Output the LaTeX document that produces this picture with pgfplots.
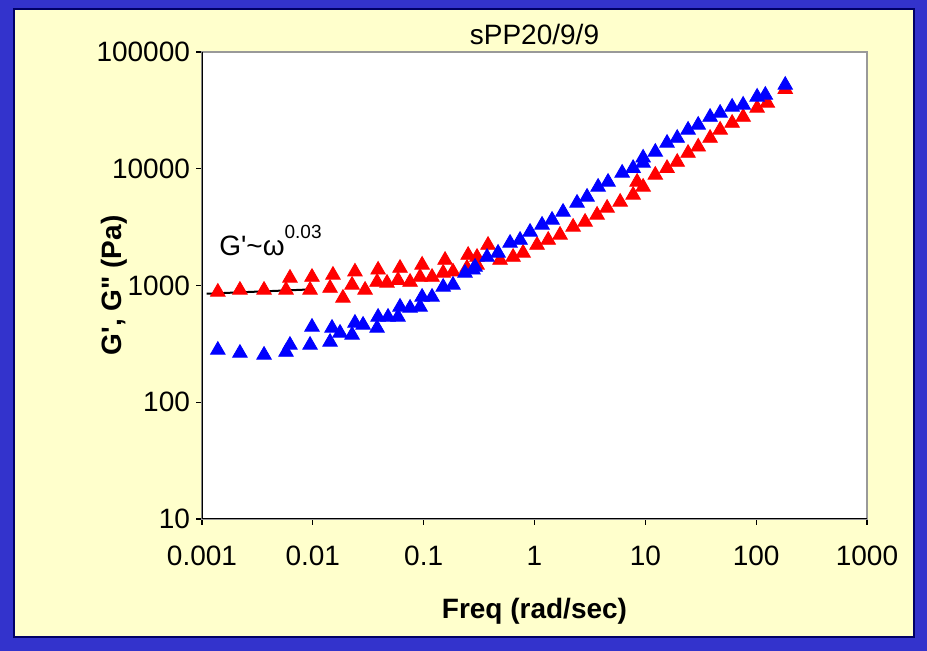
\documentclass[border=0pt]{standalone}
\usepackage{fontspec}
\setmainfont{Liberation Sans}
\usepackage{pgfplots}
\pgfplotsset{compat=1.18}
\definecolor{frameblue}{HTML}{3333CC}
\definecolor{paleyellow}{HTML}{FFFFCC}
\newcommand{\lblfont}{\fontsize{14}{16.5}\selectfont}
\begin{document}
\begin{tikzpicture}
\fill[frameblue] (0pt,0pt) rectangle (463.5pt,325.5pt);
\filldraw[fill=paleyellow, draw=black!60!blue, line width=0.6pt] (7pt,7pt) rectangle (457pt,321pt);
\begin{axis}[
  at={(101pt,66pt)}, anchor=south west,
  scale only axis, width=332.5pt, height=233.5pt,
  xmode=log, ymode=log,
  xmin=0.001, xmax=1000, ymin=10, ymax=100000,
  xtick={0.001,0.01,0.1,1,10,100,1000},
  xticklabels={0.001,0.01,0.1,1,10,100,1000},
  ytick={10,100,1000,10000,100000},
  yticklabels={10,100,1000,10000,100000},
  xminorticks=false, yminorticks=false,
  tick align=outside, tick pos=left,
  major tick length=3pt,
  tick style={black, line width=0.6pt},
  ticklabel style={font=\lblfont},
  xticklabel style={yshift=-7pt},
  yticklabel style={xshift=0.5pt},
  axis background/.style={fill=white},
  axis line style={draw=gray!80, line width=0.8pt},
  title={sPP20/9/9},
  title style={font=\lblfont, at={(axis description cs:0.5,1)}, anchor=base, yshift=-2.5pt},
  xlabel={Freq (rad/sec)},
  xlabel style={font=\bfseries\lblfont, at={(axis description cs:0.5,0)}, anchor=center, yshift=-46pt},
  ylabel={G\textquotesingle, G\textquotedbl{} (Pa)},
  ylabel style={font=\bfseries\lblfont, at={(axis description cs:0,0.5)}, anchor=center, yshift=44pt},
  every axis plot/.append style={only marks, mark=triangle*, mark size=4.2pt},
]
% G' (red)
\addplot[red, mark options={fill=red, draw=red}] coordinates {
(0.00139,880) (0.00220,915) (0.00363,915) (0.00573,915) (0.00622,1160)
(0.00983,1180) (0.00944,915) (0.0152,1230) (0.0143,950) (0.0187,781)
(0.0240,1310) (0.0226,1010) (0.0296,915) (0.0388,1360) (0.0380,1070)
(0.0467,1050) (0.0612,1410) (0.0587,1110) (0.0754,1070) (0.0968,1500)
(0.0928,1180) (0.119,1180) (0.156,1650) (0.150,1280) (0.184,1310)
(0.252,1820) (0.246,1410) (0.303,1500) (0.381,2220) (0.303,1750)
(0.489,1650) (0.641,1750) (0.789,1900) (1.055,2220) (1.33,2450)
(1.70,2710) (2.23,3170) (2.86,3500) (3.67,4020) (4.52,4610)
(5.93,5190) (7.76,5960) (8.43,7700) (9.55,6980) (12.3,8840)
(15.7,10100) (19.4,11400) (24.3,13600) (30.0,15400) (38.4,18300)
(47.3,21500) (60.7,24600) (76.3,27700) (102,33100) (126,36600)
(183,48000)
};
% G'' (blue)
\addplot[blue, mark options={fill=blue, draw=blue}] coordinates {
(0.00139,280) (0.00220,264) (0.00363,254) (0.00573,269) (0.00622,309)
(0.00983,441) (0.00944,309) (0.0149,432) (0.0143,328) (0.0176,392)
(0.0240,477) (0.0226,377) (0.0284,459) (0.0388,537) (0.0380,432)
(0.0477,537) (0.0612,655) (0.0587,537) (0.0754,642) (0.0968,797)
(0.0928,655) (0.119,797) (0.150,970) (0.184,1010) (0.236,1280)
(0.279,1360) (0.291,1440) (0.373,1750) (0.469,1900) (0.602,2310)
(0.741,2450) (0.912,2870) (1.17,3300) (1.44,3640) (1.81,4260)
(2.42,5090) (2.98,5730) (3.75,6980) (4.61,7700) (6.18,9200)
(7.76,10100) (9.55,11200) (9.55,12400) (12.3,13900) (15.7,16600)
(19.4,18300) (24.3,21500) (30.0,23700) (38.4,27700) (47.3,30000)
(60.7,33800) (76.3,35200) (102,41200) (121,42800) (183,52100)
};
% power-law guide line
\addplot[black, line width=1pt, no markers, sharp plot, mark=none] coordinates {(0.0011,850) (0.0094,925)};
\node[anchor=base west, inner sep=0pt, font=\lblfont] at (axis cs:0.00142,1824)
  {G\textquotesingle\textasciitilde ω\raisebox{1.1ex}{\fontsize{9.5}{11}\selectfont 0.03}};
\draw[black, line width=0.8pt] (rel axis cs:0,0) -- (rel axis cs:0,1);
\draw[black, line width=0.8pt] (rel axis cs:0,0) -- (rel axis cs:1,0);
\end{axis}
\end{tikzpicture}
\end{document}
